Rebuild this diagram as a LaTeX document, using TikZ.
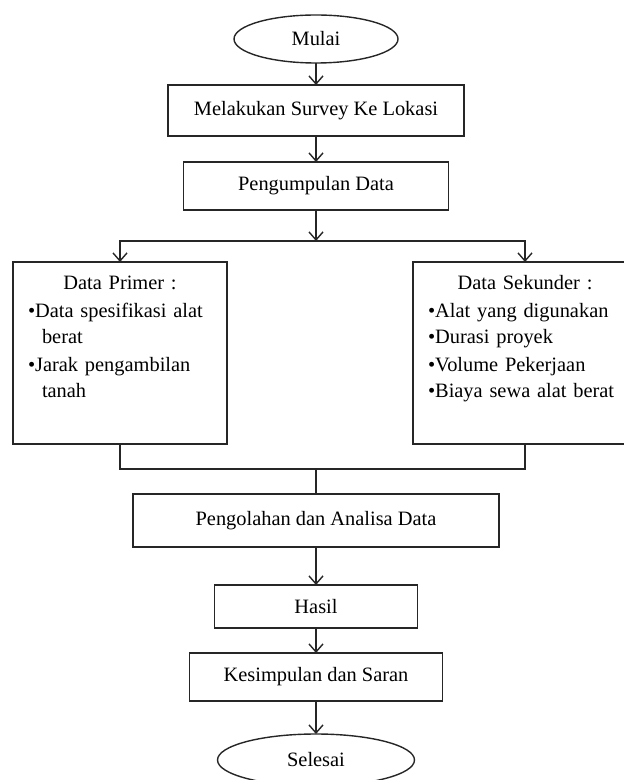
\documentclass[tikz,border=0pt]{standalone}
\usepackage{fontspec}
\setmainfont{Liberation Serif}
\usepackage{tikz}
\usetikzlibrary{shapes.geometric, arrows.meta, positioning, calc}
\tikzset{
    terminal/.style={ellipse, draw=black!85, line width=0.7pt, inner sep=0pt, outer sep=0pt, font=\fontsize{10.2}{13.5}\selectfont},
    block/.style={rectangle, draw=black!85, line width=0.7pt, text centered, inner sep=0pt, outer sep=0pt, font=\fontsize{10.2}{13.5}\selectfont},
    datablock/.style={rectangle, draw=black!85, line width=0.7pt, align=left, inner xsep=7.5pt, inner ysep=5pt, outer sep=0pt, text height=9pt, text depth=72pt, font=\fontsize{10.2}{13.5}\selectfont},
    arrow/.style={-{Straight Barb[length=4pt, width=7pt]}, line width=0.7pt, draw=black!85},
    conn/.style={line width=0.7pt, draw=black!85},
}

\begin{document}
\begin{tikzpicture}
    \path[use as bounding box, clip] (0,0) rectangle (312pt,-390pt);

    % Mulai
    \node[terminal, minimum width=82pt, minimum height=24pt] (mulai) at (158pt,-19.5pt) {Mulai};

    % Survey dan pengumpulan data
    \node[block, below=11pt of mulai, minimum width=148pt, minimum height=25.5pt] (survey) {Melakukan Survey Ke Lokasi};
    \node[block, below=13pt of survey, minimum width=132.5pt, minimum height=24pt] (kumpul) {Pengumpulan Data};
    \coordinate[below=15.5pt of kumpul] (bagi);

    % Data primer dan sekunder
    \node[datablock, text width=92pt, below=26pt of kumpul, xshift=-98pt] (primer) {\makebox[\linewidth]{Data Primer :}\\
        \textbullet Data spesifikasi alat\\
        \hspace*{7pt}berat\\
        \textbullet Jarak pengambilan\\
        \hspace*{7pt}tanah};
    \node[datablock, text width=97pt, below=26pt of kumpul, xshift=104.5pt] (sekunder) {\makebox[\linewidth]{Data Sekunder :}\\
        \textbullet Alat yang digunakan\\
        \textbullet Durasi proyek\\
        \textbullet Volume Pekerjaan\\
        \textbullet Biaya sewa alat berat};
    \coordinate (temu) at ($(primer.south -| kumpul.south)+(0,-12.5pt)$);

    % Pengolahan sampai selesai
    \node[block, below=12.5pt of temu, minimum width=183pt, minimum height=26.5pt] (olah) {Pengolahan dan Analisa Data};
    \node[block, below=19pt of olah, minimum width=101.5pt, minimum height=21.5pt] (hasil) {Hasil};
    \node[block, below=12.5pt of hasil, minimum width=126.5pt, minimum height=24pt] (simpul) {Kesimpulan dan Saran};
    \node[terminal, below=16.5pt of simpul, minimum width=98.5pt, minimum height=26pt] (selesai) {Selesai};

    % Arrows
    \draw[arrow] (mulai) -- (survey);
    \draw[arrow] (survey) -- (kumpul);
    \draw[arrow] (kumpul) -- (bagi);
    \draw[arrow] (bagi) -| (primer);
    \draw[arrow] (bagi) -| (sekunder);
    \draw[conn] (primer) |- (temu);
    \draw[conn] (sekunder) |- (temu);
    \draw[conn] (temu) -- (olah);
    \draw[arrow] (olah) -- (hasil);
    \draw[arrow] (hasil) -- (simpul);
    \draw[arrow] (simpul) -- (selesai);
\end{tikzpicture}
\end{document}
